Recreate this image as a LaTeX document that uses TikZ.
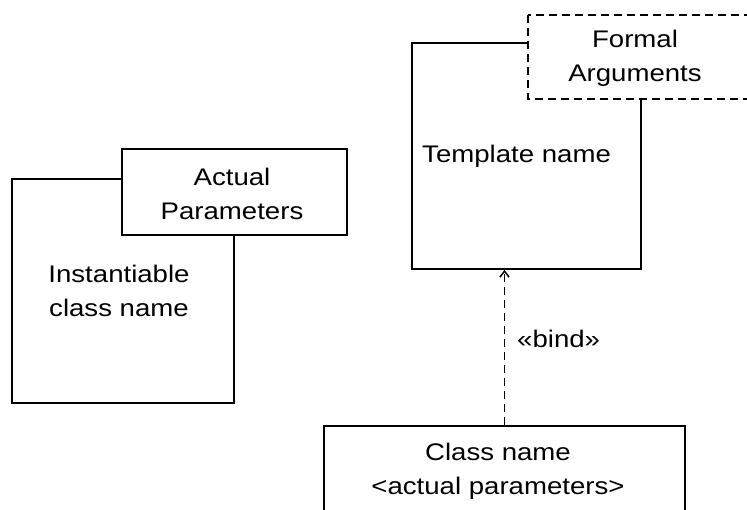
\documentclass[tikz,border=0pt]{standalone}
\usepackage{fontspec}
\setmainfont{Liberation Sans}[FakeStretch=1.15]
\usetikzlibrary{arrows.meta}
\begin{document}
\begin{tikzpicture}[x=1pt,y=-1pt,
  box/.style={draw=black,line width=1.8pt,fill=white},
  dbox/.style={box,dash pattern=on 8pt off 5pt},
  txt/.style={font=\fontsize{24}{34}\selectfont,inner sep=0pt,align=center},
  dep/.style={line width=1.8pt,dash pattern=on 8pt off 5pt,-{Straight Barb[length=6pt,width=9pt,line width=1.5pt]}}]
\useasboundingbox (0,0) rectangle (747,510);
\clip (0,0) rectangle (747,510);
% template
\draw[box] (412,43) rectangle (641,269);
\node[box,draw=none,fill=none,minimum width=229pt,minimum height=226pt,inner sep=0pt] (tmpl) at (526.5,156) {};
\node[txt,anchor=base west] (tname) at (422,163) {Template name};
\draw[dbox] (528,15) rectangle (790,99);
\node[txt] (formal) at (635,58) {Formal\\Arguments};
% instantiable
\node[box,minimum width=222pt,minimum height=224pt,inner sep=0pt] (inst) at (123,291) {};
\node[box,minimum width=225pt,minimum height=86pt,inner sep=0pt] (actual) at (234.5,192) {};
\node[txt] (acttxt) at (232,194) {Actual\\Parameters};
\node[txt] (insttxt) at (119,291) {Instantiable\\class name};
% class
\node[box,minimum width=361pt,minimum height=140pt,inner sep=0pt,anchor=north] (cls) at (504.5,425) {};
\node[txt] (clstxt) at (498,471) {Class name\\<actual parameters>};
% binding
\draw[dep] (cls.north) -- (cls.north |- tmpl.south);
\node[txt,anchor=base west] (bind) at (517,348) {«bind»};
\end{tikzpicture}
\end{document}
